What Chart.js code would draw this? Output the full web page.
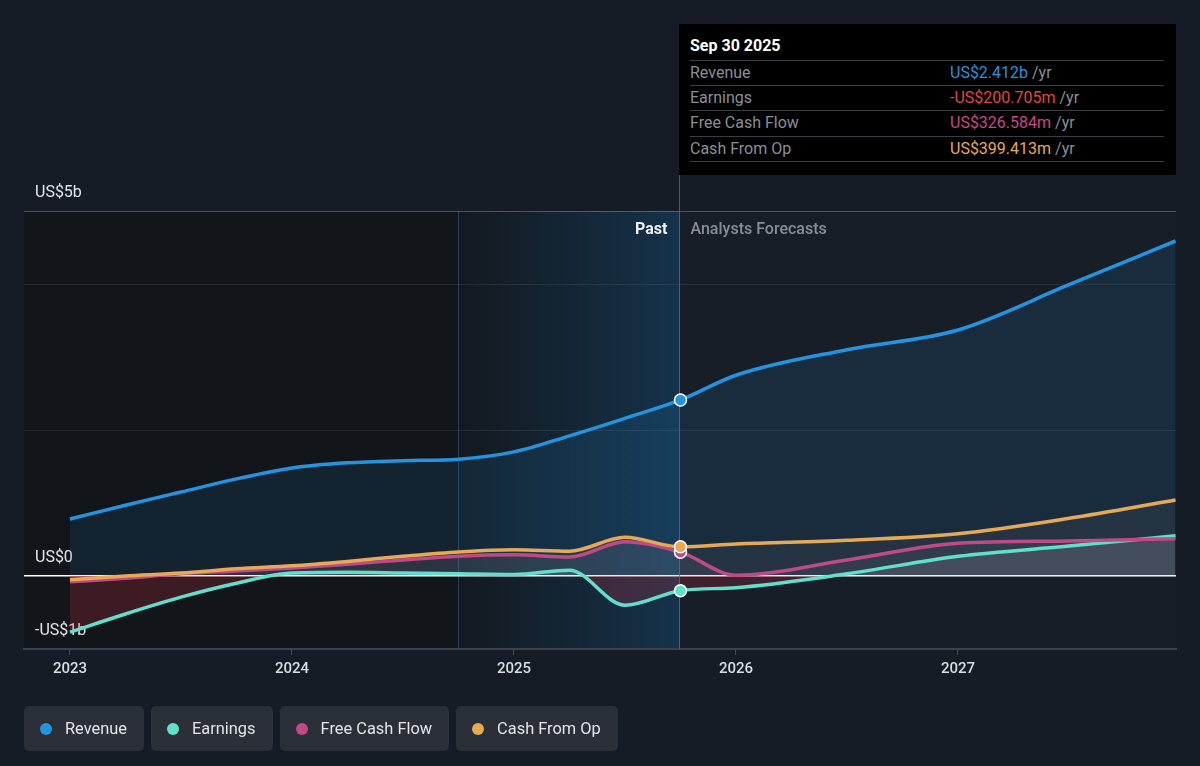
<!DOCTYPE html>
<html>
<head>
<meta charset="utf-8">
<script src="https://cdn.jsdelivr.net/npm/chart.js@4"></script>
<style>
  html, body { margin: 0; padding: 0; background: #161c25; }
  body { width: 1200px; height: 766px; position: relative; overflow: hidden; font-family: Roboto, "Noto Sans", sans-serif; }
  #chart { position: absolute; left: 0; top: 0; }
  .tip { position: absolute; left: 679px; top: 24px; width: 497px; height: 151px; background: #000; }
  .tip .title { position: absolute; left: 11px; top: 12px; color: #fff; font-size: 16px; font-weight: 700; }
  .tip .row { position: absolute; left: 11px; width: 474px; height: 25px; border-top: 1px solid #3a3d42; font-size: 16px; color: #8b8f95; }
  .tip .row span.l { position: absolute; left: 0; top: 2px; }
  .tip .row span.v { position: absolute; left: 260px; top: 2px; }
  .tip .last { position: absolute; left: 11px; top: 137px; width: 474px; border-top: 1px solid #3a3d42; }
  .legend { position: absolute; top: 706px; left: 24px; display: flex; gap: 7px; }
  .legend .item { height: 45px; background: #2a2f38; border-radius: 5px; display: flex; align-items: center; padding: 0 17px 0 16px; box-sizing: border-box; color: #e4e5e7; font-size: 16.4px; }
  .legend .dot { width: 12px; height: 12px; border-radius: 50%; margin-right: 13px; }
</style>
</head>
<body>
<canvas id="chart" width="1200" height="766"></canvas>

<div class="tip">
  <div class="title">Sep 30 2025</div>
  <div class="row" style="top:36px"><span class="l">Revenue</span><span class="v"><span style="color:#2394df">US$2.412b</span> /yr</span></div>
  <div class="row" style="top:61px"><span class="l">Earnings</span><span class="v"><span style="color:#e8423f">-US$200.705m</span> /yr</span></div>
  <div class="row" style="top:86px"><span class="l">Free Cash Flow</span><span class="v"><span style="color:#c8478a">US$326.584m</span> /yr</span></div>
  <div class="row" style="top:112px"><span class="l">Cash From Op</span><span class="v"><span style="color:#e8a954">US$399.413m</span> /yr</span></div>
  <div class="last"></div>
</div>

<div class="legend">
  <div class="item"><span class="dot" style="background:#2394df"></span>Revenue</div>
  <div class="item"><span class="dot" style="background:#5fe0cd"></span>Earnings</div>
  <div class="item"><span class="dot" style="background:#c04a88"></span>Free Cash Flow</div>
  <div class="item"><span class="dot" style="background:#e8a954"></span>Cash From Op</div>
</div>

<script>
// fiscal time in decimal years, values in US$ billions
const years    = [2023, 2023.25, 2023.5, 2023.75, 2024, 2024.25, 2024.5, 2024.75, 2025, 2025.25, 2025.5, 2025.75, 2026, 2026.5, 2027, 2027.5, 2027.98];
const revenue  = [0.78, 0.97, 1.15, 1.33, 1.48, 1.55, 1.58, 1.60, 1.70, 1.92, 2.16, 2.412, 2.75, 3.10, 3.37, 3.99, 4.59];
const earnings = [-0.77, -0.52, -0.29, -0.10, 0.04, 0.05, 0.04, 0.03, 0.02, 0.08, -0.40, -0.2007, -0.16, 0.03, 0.27, 0.41, 0.55];
const fcf      = [-0.08, -0.03, 0.03, 0.07, 0.11, 0.16, 0.22, 0.27, 0.29, 0.26, 0.47, 0.3266, 0.01, 0.22, 0.45, 0.48, 0.51];
const cfo      = [-0.05, 0.00, 0.04, 0.10, 0.14, 0.20, 0.27, 0.33, 0.36, 0.34, 0.53, 0.3994, 0.44, 0.49, 0.58, 0.79, 1.04];

const xTicks = [2023, 2024, 2025, 2026, 2027];
const yLabels = { 5: "US$5b", 0: "US$0", "-1": "-US$1b" };

const X_MIN = 2022.793, X_MAX = 2027.982;
const PAST_START = 2024.75, NOW = 2025.75;

const pts = arr => arr.map((v, i) => ({ x: years[i], y: v }));
const markerR = ctx => (years[ctx.dataIndex] === NOW ? 6 : 0);

function line(label, data, color, fill, order) {
  return {
    label, data: pts(data), order,
    borderColor: color, backgroundColor: color,
    borderWidth: 3.5,
    cubicInterpolationMode: "monotone",
    pointRadius: markerR, pointHoverRadius: 0,
    pointBackgroundColor: color, pointBorderColor: "#fff", pointBorderWidth: 1.5,
    fill
  };
}

// background bands, divider and the Past / Forecast captions
const bands = {
  id: "bands",
  beforeDraw(chart) {
    const { ctx, chartArea: a, scales: { x } } = chart;
    const p0 = x.getPixelForValue(PAST_START), p1 = x.getPixelForValue(NOW);
    ctx.save();
    ctx.fillStyle = "#121519";
    ctx.fillRect(a.left, a.top, p0 - a.left, a.bottom - a.top);
    const g = ctx.createLinearGradient(p0, 0, p1, 0);
    g.addColorStop(0, "#131920");
    g.addColorStop(1, "#15324a");
    ctx.fillStyle = g;
    ctx.fillRect(p0, a.top, p1 - p0, a.bottom - a.top);
    ctx.fillStyle = "#181e28";
    ctx.fillRect(p1, a.top, a.right - p1, a.bottom - a.top);
    ctx.strokeStyle = "rgba(50,95,130,0.6)";
    ctx.lineWidth = 1;
    ctx.beginPath();
    ctx.moveTo(Math.round(p0) + 0.5, a.top); ctx.lineTo(Math.round(p0) + 0.5, a.bottom);
    ctx.stroke();
    ctx.restore();
  },
  beforeDatasetsDraw(chart) {
    const { ctx, chartArea: a, scales: { x } } = chart;
    const p1 = x.getPixelForValue(NOW);
    ctx.save();
    ctx.strokeStyle = "rgba(60,115,160,0.8)";
    ctx.lineWidth = 1;
    ctx.beginPath();
    ctx.moveTo(Math.round(p1) - 0.5, 175); ctx.lineTo(Math.round(p1) - 0.5, a.bottom);
    ctx.stroke();
    ctx.font = "bold 16px Roboto, sans-serif";
    ctx.textBaseline = "middle";
    ctx.textAlign = "right";
    ctx.fillStyle = "#f0f0f0";
    ctx.fillText("Past", p1 - 13, a.top + 19);
    ctx.font = "500 16px Roboto, sans-serif";
    ctx.textAlign = "left";
    ctx.fillStyle = "#8a8e94";
    ctx.fillText("Analysts Forecasts", p1 + 10, a.top + 19);
    ctx.restore();
  }
};

new Chart(document.getElementById("chart"), {
  type: "line",
  data: {
    datasets: [
      line("Cash From Op", cfo, "#e8a954", { target: "origin", above: "rgba(255,225,170,0.05)", below: "rgba(210,50,70,0.2)" }, 1),
      line("Free Cash Flow", fcf, "#c04a88", { target: "origin", above: "rgba(255,190,225,0.06)", below: "rgba(210,50,70,0.2)" }, 2),
      line("Earnings", earnings, "#5fe0cd", { target: "origin", above: "rgba(255,255,255,0.09)", below: "rgba(210,50,70,0.22)" }, 3),
      line("Revenue", revenue, "#2394df", { target: "origin", above: "rgba(35,148,223,0.12)", below: "rgba(35,148,223,0.12)" }, 4)
    ]
  },
  options: {
    responsive: false,
    animation: false,
    events: [],
    layout: { padding: { left: 24, right: 24, top: 211, bottom: 0 } },
    plugins: {
      legend: { display: false },
      tooltip: { enabled: false },
      filler: { drawTime: "beforeDatasetsDraw" }
    },
    scales: {
      x: {
        type: "linear", min: X_MIN, max: X_MAX,
        afterBuildTicks: s => { s.ticks = xTicks.map(v => ({ value: v })); },
        afterFit: s => { s.height = 117; },
        grid: { drawOnChartArea: false, drawTicks: true, tickLength: 6, color: "#4a4f57" },
        border: { display: true, color: "#3d424a", width: 2 },
        ticks: { color: "#dcdde0", font: { family: "Roboto", size: 15, weight: "500" }, padding: 5, callback: v => String(v) }
      },
      y: {
        min: -1, max: 5,
        afterFit: s => { s.width = 0; },
        ticks: {
          stepSize: 1, mirror: true, padding: 11, labelOffset: -18,
          color: "#e4e5e7", font: { family: "Roboto", size: 16 },
          callback: v => yLabels[v] || ""
        },
        border: { display: false },
        grid: {
          drawTicks: false,
          lineWidth: c => (c.tick.value === 0 ? 1.5 : 1),
          color: c => {
            const v = c.tick.value;
            if (v === 0) return "#ffffff";
            if (v === 5) return "rgba(255,255,255,0.25)";
            if (v === 4 || v === 2) return "rgba(255,255,255,0.08)";
            return "rgba(0,0,0,0)";
          }
        }
      }
    }
  },
  plugins: [bands]
});
</script>
</body>
</html>
